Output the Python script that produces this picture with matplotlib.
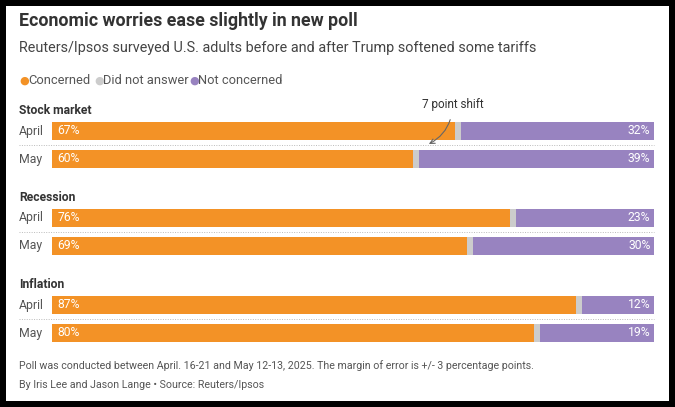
import matplotlib.pyplot as plt
from matplotlib.patches import Rectangle

plt.rcParams['font.family'] = ['Roboto', 'DejaVu Sans']

# data
groups = ['Stock market', 'Recession', 'Inflation']
months = ['April', 'May']
concerned = [[67, 60], [76, 69], [87, 80]]
no_answer = [[1, 1], [1, 1], [1, 1]]
not_concerned = [[32, 39], [23, 30], [12, 19]]

orange = '#F39226'
grey = '#CCCCCC'
purple = '#9883C0'
text_dark = '#333333'
text_grey = '#555555'

W, H = 675, 407
fig = plt.figure(figsize=(W / 100, H / 100), dpi=100)
fig.patch.set_facecolor('black')
fig.patches.append(Rectangle((6 / W, 6 / H), (W - 12) / W, (H - 12) / H,
                             transform=fig.transFigure, facecolor='white',
                             edgecolor='none', zorder=-10))


def fx(x):
    return x / W


def fy(y):
    return 1 - y / H


# title block
fig.text(fx(19), fy(21), 'Economic worries ease slightly in new poll', fontsize=12.8,
         fontweight='bold', color=text_dark, va='center')
fig.text(fx(19), fy(48), 'Reuters/Ipsos surveyed U.S. adults before and after Trump softened some tariffs',
         fontsize=10.4, color='#444444', va='center')

# legend
leg_items = [('Concerned', orange, 19), ('Did not answer', grey, 94), ('Not concerned', purple, 189)]
for lab, col, x in leg_items:
    fig.text(fx(x), fy(81), '\u25CF', color=col, fontsize=8, va='center')
    fig.text(fx(x + 9), fy(81), lab, color=text_grey, fontsize=9.3, va='center')

# bars axis (pixel units on y)
ax_top, ax_bot = 100, 350
ax = fig.add_axes([fx(52), fy(ax_bot), fx(654) - fx(52), (ax_bot - ax_top) / H])
ax.set_xlim(0, 100)
ax.set_ylim(ax_bot, ax_top)
ax.axis('off')

row0 = 131
for g, name in enumerate(groups):
    gy = row0 + g * 87
    fig.text(fx(19), fy(gy - 21), name, fontsize=8.7, fontweight='bold',
             color=text_dark, va='center')
    for r, m in enumerate(months):
        y = gy + r * 28
        c, n, nc = concerned[g][r], no_answer[g][r], not_concerned[g][r]
        ax.barh(y, c, height=18, left=0, color=orange, linewidth=0)
        ax.barh(y, n, height=18, left=c, color=grey, linewidth=0)
        ax.barh(y, nc, height=18, left=c + n, color=purple, linewidth=0)
        ax.text(0.9, y, f'{c}%', color='white', fontsize=8.7, va='center', ha='left')
        ax.text(99.4, y, f'{nc}%', color='white', fontsize=8.7, va='center', ha='right')
        fig.text(fx(19), fy(y), m, fontsize=8.8, color=text_grey, va='center')
    # dotted separator
    fig.add_artist(plt.Line2D([fx(19), fx(654)], [fy(gy + 14), fy(gy + 14)],
                              color='#BBBBBB', linestyle=(0, (1, 1.5)), linewidth=0.7))

# annotation
ax.annotate('7 point shift', xy=(62.6, 144), xytext=(66.5, 105),
            ha='center', va='center', fontsize=8.5, color=text_dark,
            arrowprops=dict(arrowstyle='->', color='#666666', lw=0.8,
                            connectionstyle='arc3,rad=-0.3',
                            shrinkA=4, shrinkB=0))

# footer
fig.text(fx(19), fy(366), 'Poll was conducted between April. 16-21 and May 12-13, 2025. '
         'The margin of error is +/- 3 percentage points.', fontsize=7.7, color=text_grey, va='center')
fig.text(fx(19), fy(385), 'By Iris Lee and Jason Lange \u2022 Source: Reuters/Ipsos',
         fontsize=7.7, color=text_grey, va='center')

fig.savefig('out.png', dpi=100, facecolor=fig.get_facecolor())
